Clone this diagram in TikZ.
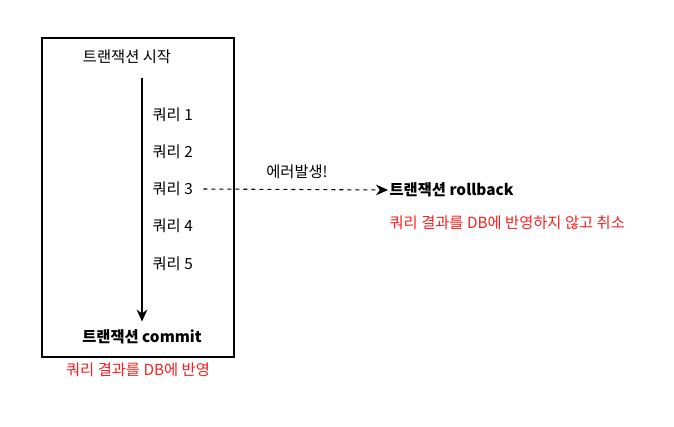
\documentclass[tikz,border=0pt]{standalone}
\usepackage{fontspec}
\setmainfont{Noto Sans CJK KR}
\usetikzlibrary{arrows.meta}
\definecolor{errred}{RGB}{255,30,30}
\tikzset{
  txbox/.style = {draw=black, thick},
  label/.style = {font=\fontsize{11.5}{13}\selectfont, inner sep=1pt},
  boldlabel/.style = {label, font=\fontsize{11.5}{13}\selectfont\bfseries},
  query/.style = {label, anchor=west},
  result/.style = {label, text=errred},
  flow/.style = {thick, -{Stealth[length=9pt, width=8pt]}},
  failflow/.style = {flow, dashed}
}

\begin{document}
\begin{tikzpicture}[x=0.75pt, y=-0.75pt]
\useasboundingbox (0,0) rectangle (674,426);
% TRANSACTION BOX
\draw [txbox] (42,38) rectangle (234,357);
\node [label] (Tx-Start) at (127,57) {트랜잭션 시작};
\node [boldlabel] (Tx-Commit) at (142,337) {트랜잭션 commit};
\node [result] (Commit-Note) at (138,370) {쿼리 결과를 DB에 반영};
% QUERIES
\node [query] (Query-1) at (151,115) {쿼리 1};
\node [query] (Query-2) at (151,152) {쿼리 2};
\node [query] (Query-3) at (151,189) {쿼리 3};
\node [query] (Query-4) at (151,226) {쿼리 4};
\node [query] (Query-5) at (151,264) {쿼리 5};
% FLOW
\coordinate (Flow-Top) at (142,78);
\draw [flow, shorten >=5pt] (Flow-Top) -- (Tx-Commit.north);
% ROLLBACK
\node [boldlabel, anchor=west] (Tx-Rollback) at (388,190) {트랜잭션 rollback};
\node [result, anchor=west] (Rollback-Note) at (388,223) {쿼리 결과를 DB에 반영하지 않고 취소};
\node [label] (Error-Text) at (297,172) {에러발생!};
\draw [failflow] (Query-3.east) ++(9,0) -- (Tx-Rollback.west);
\end{tikzpicture}
\end{document}
